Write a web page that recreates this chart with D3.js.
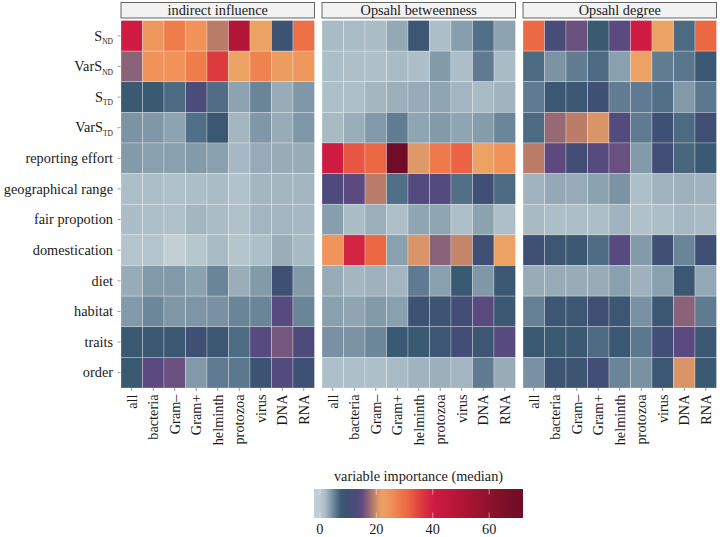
<!DOCTYPE html>
<html><head><meta charset="utf-8">
<script src="https://cdn.jsdelivr.net/npm/d3@7"></script>
<style>
body{margin:0;background:#fff}
svg{display:block}
text{font-family:"Liberation Serif","Times New Roman",serif;fill:#1a1a1a}
</style>
</head><body>
<svg id="c" width="720" height="537"></svg>
<script>
const panels = ["indirect influence", "Opsahl betweenness", "Opsahl degree"];
const rows = ["S_ND", "VarS_ND", "S_TD", "VarS_TD", "reporting effort", "geographical range",
  "fair propotion", "domestication", "diet", "habitat", "traits", "order"];
const cols = ["all", "bacteria", "Gram–", "Gram+", "helminth", "protozoa", "virus", "DNA", "RNA"];

const indirectInfluence = [
  [40, 24, 28, 25, 19, 50, 22, 9, 30],
  [17, 25, 25, 28, 36, 22, 27, 23, 24],
  [7.5, 7.5, 6.5, 12, 6.3, 3.3, 5, 2.8, 4],
  [4.2, 4, 3.3, 6.2, 8, 2.2, 4, 2.8, 4],
  [3.8, 3.5, 3.5, 3.8, 3.5, 2.1, 2.9, 2.8, 2.8],
  [1.6, 1.6, 1.3, 1.6, 1.7, 1.1, 2.2, 2.2, 2.2],
  [1.7, 1.5, 1.3, 2.2, 1.8, 1.3, 2.3, 2.3, 2.1],
  [0.9, 0.9, -2.1, 0.6, 1.9, 0.8, 1.5, 2.7, 2.0],
  [2.8, 3.9, 3.9, 3.4, 5, 2.7, 3.8, 9.5, 3.8],
  [3.9, 4.8, 4, 4.1, 4.3, 5, 5, 14, 5],
  [8, 8, 8, 9.5, 8, 6.4, 14, 16, 13],
  [7.5, 14.5, 15.5, 3.9, 5.5, 5.7, 9, 13.5, 9.5]
];
const opsahlBetweenness = [
  [1.9, 1.8, 1.8, 3, 8.5, 1.6, 3.6, 6.2, 3.3],
  [1.6, 1.4, 1.4, 1.9, 1.6, 3.8, 1.6, 5.5, 1.9],
  [1.5, 1.5, 2.2, 2.6, 2.9, 3.2, 2.3, 1.9, 2.4],
  [2, 2.7, 3.9, 5.4, 3.2, 3.8, 3.2, 3.7, 4.9],
  [40, 33, 31, 72, 21, 28.5, 31.5, 22, 25],
  [13, 14.5, 19, 6.2, 13.5, 13.5, 6.2, 9.8, 6.5],
  [3.6, 1.8, 2.6, 1.4, 3.2, 3.2, 1.5, 3.4, 1.4],
  [24.5, 39, 31, 3.5, 20.5, 17, 19.5, 9.8, 22],
  [2.8, 2.2, 2.5, 2.3, 5.5, 3.5, 7.7, 4, 8],
  [3.5, 3.2, 3.8, 3.5, 9, 8.8, 10.5, 14.5, 8],
  [4.3, 4.2, 4.8, 7.7, 7.5, 8.3, 10.5, 8.5, 14],
  [1.5, 1.5, 1.5, 1.9, 2.4, 2.6, 2.3, 5.5, 2.8]
];
const opsahlDegree = [
  [30.5, 11.5, 15.5, 7.5, 14.5, 40, 22, 6.5, 31],
  [6.5, 4.2, 5.4, 6.5, 3.5, 22, 5.4, 5.8, 8],
  [5.5, 8.2, 8.2, 9.5, 5.4, 5.5, 6.2, 3.9, 5.7],
  [6.5, 17.5, 19, 20.5, 13.5, 5.5, 9.5, 6.5, 10],
  [19, 15, 10.5, 14, 15.5, 3.9, 10.5, 6.7, 7.7],
  [2.4, 3, 2.9, 3.4, 4.2, 1.5, 2.4, 2.5, 2.4],
  [2, 1.6, 1.6, 1.6, 2.4, 1.2, 1.6, 2.1, 1.9],
  [9.5, 8.5, 7.8, 6.4, 14, 3.8, 9.8, 5, 10],
  [2.8, 2.8, 2.8, 2.8, 3.5, 2.5, 3.5, 8.2, 3],
  [5.2, 8.3, 8.3, 10, 8.3, 4.3, 8, 17, 5.5],
  [7.7, 7.5, 8, 6.5, 8.2, 5.7, 10.8, 14.5, 8],
  [4.3, 8.8, 8.8, 10.5, 5, 4.3, 8.2, 20.5, 7.5]
];
const legendTicks = [0, 20, 40, 60];
const legendTitle = "variable importance (median)";

// colour ramp stops
const rampValues = [-2.1, 0, 2, 4, 6, 7.5, 10, 13, 15, 17, 19, 20.5, 22, 25, 28, 31, 36, 40, 50, 65, 72];
const rampColors = ["#c2d0d6", "#bdccd2", "#a8bac4", "#7f97a6", "#55728a", "#3a5a72", "#3f4f74",
  "#4f4a7c", "#5f4a80", "#8a6379", "#bb7d6a", "#d99468", "#eba262", "#f0925a", "#ef7c4b",
  "#ec6843", "#dd3a3e", "#d01c42", "#b21535", "#7e1028", "#700c27"];

const panelData = [indirectInfluence, opsahlBetweenness, opsahlDegree];
const cells = [];
panels.forEach((p, pi) => rows.forEach((r, ri) => cols.forEach((c, ci) =>
  cells.push({panel: p, row: r, col: c, value: panelData[pi][ri][ci]}))));

const color = d3.scaleLinear().domain(rampValues).range(rampColors)
  .interpolate(d3.interpolateRgb).clamp(true);

const svg = d3.select("#c");
const panelX = d3.scaleBand().domain(panels).range([121, 716.5]).paddingInner(0.0375);
const y = d3.scaleBand().domain(rows).range([20.5, 388]);
const x = d3.scaleBand().domain(cols).range([0, panelX.bandwidth()]);

// strips + cells
panels.forEach(p => {
  const g = svg.append("g").attr("transform", `translate(${panelX(p)},0)`);
  g.append("rect").attr("x", 0).attr("y", 2.5).attr("width", panelX.bandwidth()).attr("height", 15.5)
    .attr("fill", "#f2f2f2").attr("stroke", "#555").attr("stroke-width", 0.9);
  g.append("text").attr("x", panelX.bandwidth() / 2).attr("y", 14.8).attr("text-anchor", "middle")
    .attr("font-size", 14.3).text(p);
  g.selectAll("rect.cell").data(cells.filter(d => d.panel === p)).join("rect")
    .attr("class", "cell")
    .attr("x", d => x(d.col)).attr("y", d => y(d.row))
    .attr("width", x.bandwidth()).attr("height", y.bandwidth())
    .attr("fill", d => color(d.value))
    .attr("stroke", "rgba(255,255,255,0.45)").attr("stroke-width", 0.6);
  // x ticks and labels
  cols.forEach(c => {
    const cx = x(c) + x.bandwidth() / 2;
    g.append("line").attr("x1", cx).attr("x2", cx).attr("y1", 388).attr("y2", 391)
      .attr("stroke", "#555").attr("stroke-width", 0.6);
    g.append("text").attr("transform", `translate(${cx},394.5) rotate(-90)`)
      .attr("text-anchor", "end").attr("dy", "0.34em").attr("font-size", 14.3).text(c);
  });
});

// y axis
rows.forEach(r => {
  const cy = y(r) + y.bandwidth() / 2;
  svg.append("line").attr("x1", 117.5).attr("x2", 120.5).attr("y1", cy).attr("y2", cy)
    .attr("stroke", "#555").attr("stroke-width", 0.6);
  const t = svg.append("text").attr("x", 113).attr("y", cy + 4.8).attr("text-anchor", "end")
    .attr("font-size", 14.3);
  const parts = r.split("_");
  t.append("tspan").text(parts[0]);
  if (parts[1]) t.append("tspan").attr("font-size", 7.5).attr("dy", 3.5).text(parts[1]);
});

// legend
const ext = d3.extent(cells, d => d.value);
const lx = d3.scaleLinear().domain(ext).range([314, 523]);
const defs = svg.append("defs");
const grad = defs.append("linearGradient").attr("id", "lg").attr("x1", "0%").attr("x2", "100%");
d3.range(0, 101).forEach(i => {
  const v = ext[0] + (ext[1] - ext[0]) * i / 100;
  grad.append("stop").attr("offset", i + "%").attr("stop-color", color(v));
});
svg.append("rect").attr("x", lx(ext[0])).attr("y", 489).attr("width", lx(ext[1]) - lx(ext[0]))
  .attr("height", 29).attr("fill", "url(#lg)");
legendTicks.forEach(t => {
  svg.append("line").attr("x1", lx(t)).attr("x2", lx(t)).attr("y1", 489).attr("y2", 494.5)
    .attr("stroke", "#fff").attr("stroke-width", 0.7).attr("opacity", 0.7);
  svg.append("line").attr("x1", lx(t)).attr("x2", lx(t)).attr("y1", 512.5).attr("y2", 518)
    .attr("stroke", "#fff").attr("stroke-width", 0.7).attr("opacity", 0.7);
  svg.append("text").attr("x", lx(t)).attr("y", 534).attr("text-anchor", "middle")
    .attr("font-size", 14.3).text(t);
});
svg.append("text").attr("x", (lx(ext[0]) + lx(ext[1])) / 2).attr("y", 481).attr("text-anchor", "middle")
  .attr("font-size", 14.3).text(legendTitle);
</script>
</body></html>
